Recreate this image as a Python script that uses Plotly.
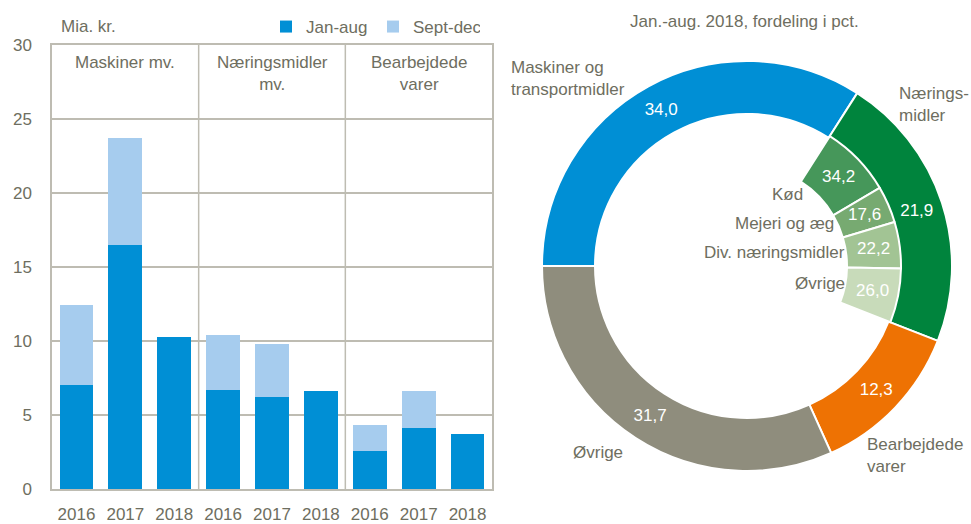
import math
import plotly.graph_objects as go

# ---------------- data ----------------
years = ["2016", "2017", "2018"]
groups = ["Maskiner mv.", "Næringsmidler<br>mv.", "Bearbejdede<br>varer"]
jan_aug = [7.05, 16.5, 10.3, 6.7, 6.2, 6.6, 2.6, 4.1, 3.7]
sept_dec = [5.35, 7.2, None, 3.7, 3.6, None, 1.7, 2.5, None]

ring_labels = ["Maskiner og transportmidler", "Næringsmidler", "Bearbejdede varer", "Øvrige"]
ring_values = [34.0, 21.9, 12.3, 31.7]
sub_labels = ["Kød", "Mejeri og æg", "Div. næringsmidler", "Øvrige"]
sub_values = [34.2, 17.6, 22.2, 26.0]

# ---------------- style ----------------
FONT = "Liberation Sans, Arial, sans-serif"
FS = 17
TXT = "#6E6E60"
GRID = "#BEBCB2"
C_JAN = "#008FD5"
C_SEP = "#A6CCEE"
RING_COLORS = ["#008FD5", "#00843D", "#EE7203", "#8F8D7D"]
SUB_COLORS = ["#46975A", "#77AA71", "#A2C494", "#C8DBBA"]

W, H = 971, 524
ML, MR, MT, MB = 52, 0, 45, 35
PW, PH = W - ML - MR, H - MT - MB


def px(x):
    return (x - ML) / PW


def py(y):
    return (H - MB - y) / PH


def fmt(v):
    return f"{v:.1f}".replace(".", ",")


x_idx = list(range(len(jan_aug)))
x_text = [years[i % 3] for i in x_idx]

fig = go.Figure()
fig.add_trace(go.Bar(x=x_idx, y=jan_aug, name="Jan-aug", marker=dict(color=C_JAN, line_width=0),
                     xaxis="x", yaxis="y"))
fig.add_trace(go.Bar(x=x_idx, y=sept_dec, name="Sept-dec", marker=dict(color=C_SEP, line_width=0),
                     xaxis="x", yaxis="y"))

# outer ring
cx, cy, R_out, R_sub, R_in = 747, 266, 205, 154, 100
fig.add_trace(go.Pie(
    values=ring_values, labels=ring_labels, sort=False, direction="clockwise", rotation=270,
    hole=152 / R_out, text=[fmt(v) for v in ring_values], textinfo="text",
    textposition="inside", insidetextorientation="horizontal",
    textfont=dict(color="white", size=FS, family=FONT),
    marker=dict(colors=RING_COLORS, line=dict(color="white", width=2)),
    domain=dict(x=[px(cx - R_out), px(cx + R_out)], y=[py(cy + R_out), py(cy - R_out)]),
    showlegend=False, hoverinfo="skip",
))

# inner sub-ring for Næringsmidler (same angular span as the Næringsmidler slice)
share = ring_values[1] / 100.0
sub_vals_scaled = [ring_values[0]] + [v * share for v in sub_values] + [ring_values[2] + ring_values[3]]
fig.add_trace(go.Pie(
    values=sub_vals_scaled, labels=["_a"] + sub_labels + ["_b"], sort=False, direction="clockwise",
    rotation=270, hole=R_in / R_sub, textinfo="none",
    marker=dict(colors=["rgba(0,0,0,0)"] + SUB_COLORS + ["rgba(0,0,0,0)"],
                line=dict(color="white", width=[0, 2, 2, 2, 2, 0])),
    domain=dict(x=[px(cx - R_sub), px(cx + R_sub)], y=[py(cy + R_sub), py(cy - R_sub)]),
    showlegend=False, hoverinfo="skip",
))

ann = []
# value labels of the sub-ring, placed at the middle of each slice
start = 270 + ring_values[0] * 3.6
r_mid = (R_sub + R_in) / 2 + 1
for v in sub_values:
    span = v * share * 3.6
    th = math.radians(start + span / 2)
    ann.append(dict(x=px(cx + r_mid * math.sin(th)), y=py(cy - r_mid * math.cos(th)),
                    xref="paper", yref="paper", text=fmt(v), showarrow=False,
                    xanchor="center", yanchor="middle",
                    font=dict(size=FS, color="white", family=FONT)))
    start += span

# group labels on bars
for gi, g in enumerate(groups):
    ann.append(dict(x=gi * 3 + 1, y=29.6, xref="x", yref="y", text=g, showarrow=False,
                    yanchor="top", xanchor="center", align="center",
                    font=dict(size=FS, color=TXT, family=FONT)))
ann.append(dict(x=px(59), y=py(26), xref="paper", yref="paper", text="Mia. kr.", showarrow=False,
                xanchor="left", yanchor="middle", font=dict(size=FS, color=TXT, family=FONT)))
ann.append(dict(x=px(744), y=py(22), xref="paper", yref="paper", text="Jan.-aug. 2018, fordeling i pct.",
                showarrow=False, xanchor="center", yanchor="middle",
                font=dict(size=FS, color=TXT, family=FONT)))
outer_lbl = [("Maskiner og<br>transportmidler", 509, 78),
             ("Nærings-<br>midler", 897, 105),
             ("Bearbejdede<br>varer", 865, 455),
             ("Øvrige", 571, 452)]
for t, x, y in outer_lbl:
    ann.append(dict(x=px(x), y=py(y), xref="paper", yref="paper", text=t, showarrow=False,
                    xanchor="left", yanchor="middle", align="left",
                    font=dict(size=FS, color=TXT, family=FONT)))
inner_lbl = [(sub_labels[0], 805, 194), (sub_labels[1], 836, 223),
             (sub_labels[2], 847, 252), (sub_labels[3], 847, 283)]
for t, x, y in inner_lbl:
    ann.append(dict(x=px(x), y=py(y), xref="paper", yref="paper", text=t, showarrow=False,
                    xanchor="right", yanchor="middle", align="right",
                    font=dict(size=FS, color=TXT, family=FONT)))

shapes = [dict(type="line", xref="x", yref="paper", x0=xv, x1=xv, y0=0, y1=1,
               line=dict(color=GRID, width=1.5)) for xv in (2.5, 5.5)]

fig.update_layout(
    width=W, height=H, margin=dict(l=ML, r=MR, t=MT, b=MB),
    paper_bgcolor="white", plot_bgcolor="white",
    barmode="stack", bargap=0.31,
    font=dict(family=FONT, color=TXT, size=FS),
    xaxis=dict(domain=[0, px(492)], range=[-0.5, 8.5], tickmode="array", tickvals=x_idx,
               ticktext=x_text, showgrid=False, showline=True, linecolor=GRID, linewidth=1.5,
               mirror=True, ticks="", ticklabelstandoff=9, tickfont=dict(size=FS, color=TXT),
               zeroline=False, fixedrange=True),
    yaxis=dict(range=[0, 30], tickvals=[0, 5, 10, 15, 20, 25, 30], showgrid=True, gridcolor=GRID,
               gridwidth=1.5, showline=True, linecolor=GRID, linewidth=1.5, mirror=True, ticks="",
               ticklabelstandoff=15, tickfont=dict(size=FS, color=TXT), zeroline=False),
    legend=dict(orientation="h", x=px(266), y=py(27), xanchor="left", yanchor="middle",
                font=dict(size=FS, color=TXT), bgcolor="rgba(0,0,0,0)", itemwidth=30,
                traceorder="normal", entrywidth=62, tracegroupgap=0),
    annotations=ann, shapes=shapes,
)

fig.write_html("out.html", config={"displayModeBar": False},
               post_script="document.body.style.margin='0';")
